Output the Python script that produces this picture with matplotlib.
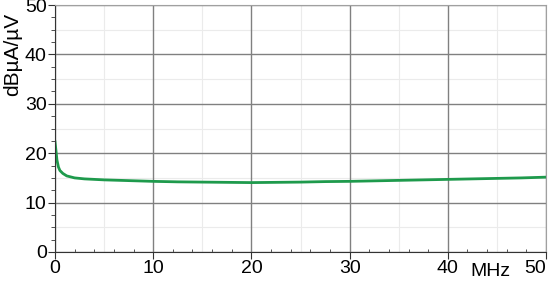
import matplotlib.pyplot as plt
from matplotlib.ticker import MultipleLocator

plt.rcParams['font.family'] = ['Liberation Sans', 'DejaVu Sans']

# curve
freq_mhz = [0.0, 0.1, 0.2, 0.35, 0.5, 0.8, 1.2, 2.0, 3.0, 5.0, 7.5, 10.0, 12.5, 15.0,
            17.5, 20.0, 22.5, 25.0, 27.5, 30.0, 32.5, 35.0, 37.5, 40.0, 42.5, 45.0,
            47.5, 50.0]
level = [22.3, 20.5, 18.6, 17.2, 16.5, 15.9, 15.4, 15.0, 14.8, 14.6, 14.45, 14.3,
         14.2, 14.15, 14.1, 14.05, 14.1, 14.15, 14.25, 14.3, 14.4, 14.5, 14.6,
         14.7, 14.8, 14.9, 15.0, 15.15]
ticks = [0, 10, 20, 30, 40, 50]

fig = plt.figure(figsize=(5.5, 2.86), dpi=100)
ax = fig.add_axes([55 / 550, 34 / 286, 491 / 550, 247 / 286])

ax.plot(freq_mhz, level, color='#1e9a4c', linewidth=2.0)

ax.set_xlim(0, 50)
ax.set_ylim(0, 50)
ax.set_xticks(ticks)
ax.set_yticks(ticks)
ax.xaxis.set_minor_locator(MultipleLocator(2))
ax.yaxis.set_minor_locator(MultipleLocator(2.5))

# major and light 5-unit grid
ax.grid(True, which='major', color='#808080', linewidth=1.0)
for v in range(5, 50, 10):
    ax.axvline(v, color='#ebebeb', linewidth=0.8, zorder=0)
    ax.axhline(v, color='#ebebeb', linewidth=0.8, zorder=0)

ax.tick_params(axis='both', which='major', labelsize=14, length=5, color='#333333',
               pad=1)
ax.tick_params(axis='x', which='minor', direction='in', length=2, color='#333333')
ax.tick_params(axis='y', which='minor', direction='out', length=3, color='#333333')

for side in ['top', 'right']:
    ax.spines[side].set_color('#a0a0a0')
for side in ['left', 'bottom']:
    ax.spines[side].set_color('#333333')

# last x label sits inside the figure
ax.set_xticklabels([str(t) for t in ticks])
ax.get_xticklabels()[-1].set_horizontalalignment('right')

ax.set_ylabel('dBµA/µV', fontsize=15)
ax.yaxis.set_label_coords(-0.066, 0.80)
fig.text(490 / 550, 1 - 272 / 286, 'MHz', fontsize=14, ha='center', va='center')

fig.savefig('out.png', dpi=100)
